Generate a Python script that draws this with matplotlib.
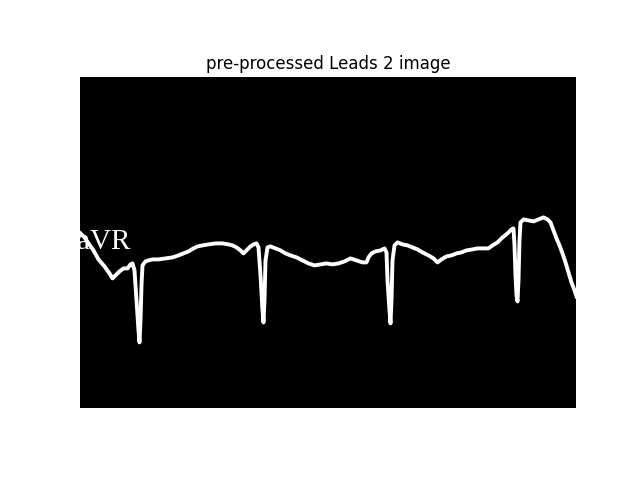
import numpy as np
import matplotlib
matplotlib.use("Agg")
import matplotlib.pyplot as plt

# image size (rows, cols) of the pre-processed lead strip
img_h, img_w = 331, 496

# traced ECG line, pixel coords in the image (x = column, y = row)
trace_x = [0, 4, 8, 13, 18, 24, 29, 32, 35, 39, 43, 47, 50, 52, 54, 56, 58, 59, 60, 61,
           62, 65, 68, 72, 78, 85, 92, 98, 103, 108, 113, 117, 122, 128, 135, 142, 148,
           152, 156, 160, 163, 166, 170, 173, 176, 178, 180, 182, 183, 184, 185, 187, 190,
           195, 200, 205, 210, 216, 222, 228, 234, 240, 246, 252, 258, 264, 270, 276, 282,
           286, 288, 291, 295, 300, 304, 306, 307, 309, 310, 311, 312, 314, 317, 322, 327,
           332, 337, 342, 348, 353, 357, 361, 366, 371, 376, 381, 386, 392, 397, 403, 408,
           412, 417, 422, 427, 431, 433, 434, 435, 436, 437, 438, 439, 440, 443, 448, 453,
           458, 463, 467, 470, 473, 476, 479, 482, 485, 488, 491, 494, 496]
trace_y = [156, 160, 166, 173, 182, 189, 196, 201, 198, 194, 191, 191, 187, 186, 193, 223,
           253, 265, 243, 208, 188, 184, 183, 182, 182, 181, 180, 178, 176, 174, 171, 169,
           168, 167, 166, 166, 167, 168, 170, 173, 176, 173, 169, 167, 166, 170, 198, 233,
           245, 223, 183, 170, 169, 171, 173, 176, 178, 180, 183, 186, 188, 187, 186, 187,
           186, 184, 181, 183, 185, 185, 180, 176, 174, 173, 171, 175, 203, 233, 246, 223,
           183, 168, 165, 167, 168, 170, 172, 175, 178, 181, 185, 182, 179, 178, 176, 175,
           173, 172, 171, 171, 171, 168, 165, 160, 156, 152, 151, 168, 198, 218, 224, 203,
           163, 145, 142, 143, 144, 142, 140, 142, 145, 153, 161, 168, 176, 185, 195, 205,
           213, 219]

lead_label = "aVR"

img = np.zeros((img_h, img_w))

fig, ax = plt.subplots(figsize=(6.4, 4.8), dpi=100)
ax.imshow(img, cmap="gray", vmin=0, vmax=1)
ax.plot(trace_x, trace_y, color="white", lw=2.8, solid_joinstyle="round")
ax.text(-4, 172, lead_label, color="white", fontsize=21, family="Liberation Serif",
        va="baseline", ha="left", clip_on=True)
ax.set_xlim(-0.5, img_w - 0.5)
ax.set_ylim(img_h - 0.5, -0.5)
ax.axis("off")
ax.set_title("pre-processed Leads 2 image")

plt.savefig("out.png")
